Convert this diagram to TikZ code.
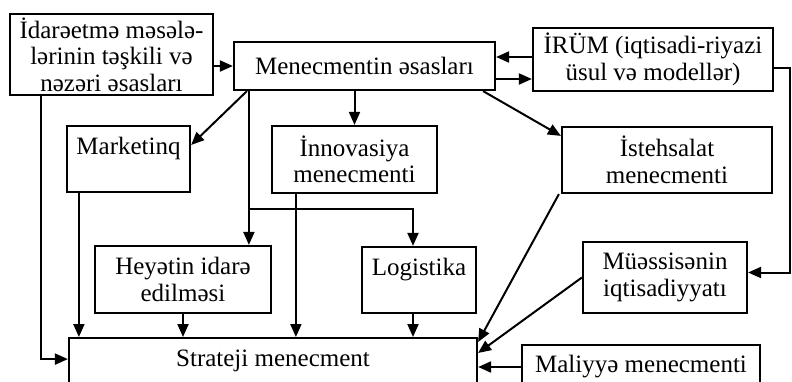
\documentclass[tikz,border=0pt]{standalone}
\usepackage{fontspec}
\setmainfont{Liberation Serif}
\usetikzlibrary{arrows.meta}
\tikzset{
  box/.style={draw, line width=2.2pt, rectangle, align=center, inner sep=1pt,
    font=\fontsize{25}{26.5}\selectfont},
  arr/.style={line width=2pt, -{Triangle[length=13pt,width=11pt]}},
  ln/.style={line width=2pt}
}
\begin{document}
\begin{tikzpicture}[x=1pt,y=-1pt]
\useasboundingbox (0,0) rectangle (792,382);
\clip (0,0) rectangle (792,382);
\fill[white] (0,0) rectangle (792,382);
% nodes
\node[box, minimum width=203, minimum height=81] (ida) at (111.5,54.5)
  {İdarəetmə məsələ-\\lərinin təşkili və\\nəzəri əsasları};
\node[box, minimum width=261, minimum height=48] (men) at (364.5,66) {Menecmentin əsasları};
\node[box, minimum width=240, minimum height=63] (irum) at (653,59.5)
  {İRÜM (iqtisadi-riyazi\\üsul və modellər)};
\node[box, minimum width=123, minimum height=66] (mark) at (128.5,159) {Marketinq\\\mbox{}};
\node[box, minimum width=165, minimum height=67] (inno) at (354.5,159.5) {İnnovasiya\\menecmenti};
\node[box, minimum width=210, minimum height=66] (ist) at (667,160) {İstehsalat\\menecmenti};
\node[box, minimum width=176, minimum height=67] (hey) at (183,279.5) {Heyətin idarə\\edilməsi};
\node[box, minimum width=114, minimum height=66] (log) at (419,280) {Logistika\\\mbox{}};
\node[box, minimum width=164, minimum height=71] (mue) at (665,277.5) {Müəssisənin\\iqtisadiyyatı};
\node[box, minimum width=238, minimum height=44] (mal) at (641,367) {Maliyyə menecmenti};
\node[box, minimum width=408, minimum height=60, text height=16pt, text depth=20pt, anchor=north]
  (str) at (273,337) {Strateji menecment};
% connectors
\draw[arr] (ida.east |- men.west) -- (men.west);
\coordinate (p1) at ([yshift=9pt]men.east);
\draw[arr] (p1 -| irum.west) -- (p1);
\coordinate (p2) at ([yshift=-13pt]men.east);
\draw[arr] (p2) -- (p2 -| irum.west);
\coordinate (r1) at ([yshift=-8.5pt]irum.east);
\coordinate (rx) at (790,68);
\coordinate (r2) at ([yshift=5pt]mue.east);
\draw[arr] (r1) -- (rx) |- (r2);
\draw[arr] ([xshift=14pt]men.south west) -- ([yshift=14pt]mark.east);
\coordinate (v1) at ([xshift=16pt]men.south west);
\draw[arr] (v1) -- (v1 |- hey.north);
\coordinate (j) at (250,209);
\draw[arr] (j) -| ([xshift=-6pt]log.north);
\draw[arr] (inno.north |- men.south) -- (inno.north);
\draw[arr] ([xshift=-13pt]men.south east) -- ([yshift=-10pt]ist.north west);
\coordinate (m1) at ([xshift=13pt]mark.south west);
\draw[arr] (m1) -- (m1 |- str.north);
\coordinate (i1) at ([xshift=32pt]ida.south west);
\draw[arr] (i1) |- ([yshift=9pt]str.west);
\draw[arr] (hey.south) -- (hey.south |- str.north);
\coordinate (n1) at ([xshift=25pt]inno.south west);
\draw[arr] (n1) -- (n1 |- str.north);
\coordinate (l1) at ([xshift=-6pt]log.south);
\draw[arr] (l1) -- (l1 |- str.north);
\draw[arr] ([xshift=-2pt]ist.south west) -- ([yshift=-5pt]str.north east);
\draw[arr] (mue.west) -- ([yshift=-16pt]str.north east);
\draw[arr] (mal.west) -- (mal.west -| str.east);
\end{tikzpicture}
\end{document}
